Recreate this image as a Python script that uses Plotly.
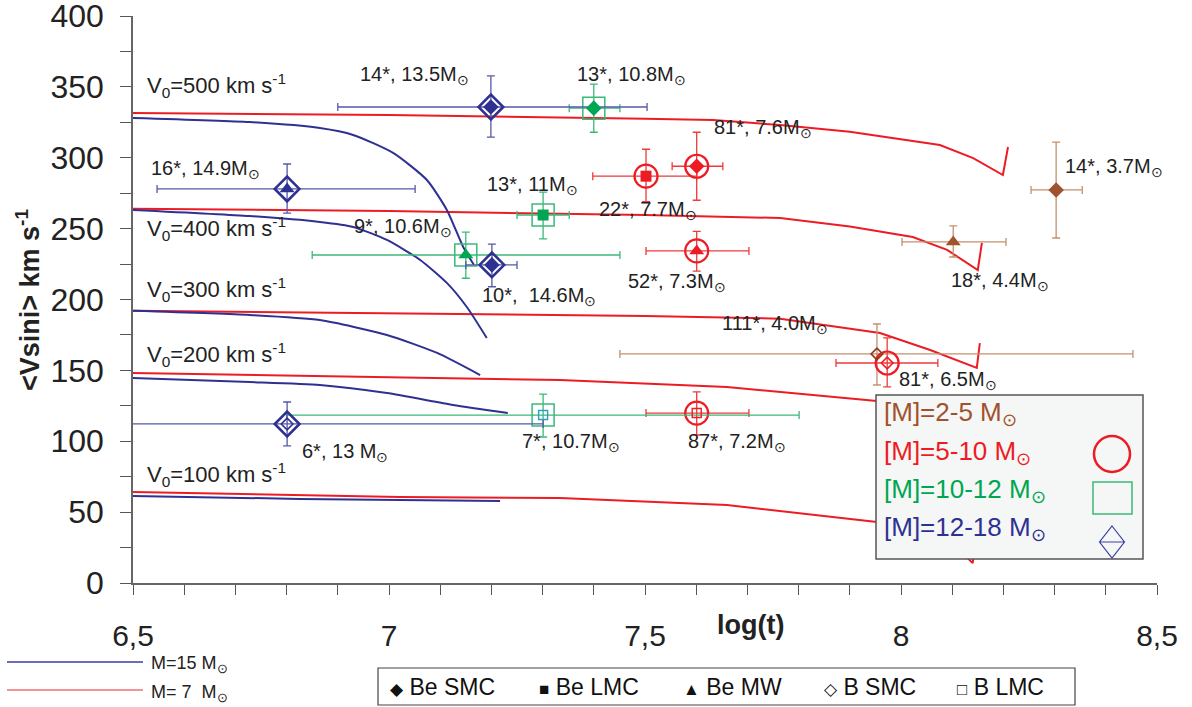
import plotly.graph_objects as go

# ---------------- data ----------------
# model curves, M = 7 Msun (red)
r500_x = [6.5, 7.0, 7.5, 7.633, 7.764, 7.9, 8.076, 8.141, 8.199, 8.209]
r500_y = [331.6, 330.2, 327.5, 326.6, 323.1, 318.4, 309.0, 299.8, 287.8, 307.6]
r400_x = [6.5, 7.0, 7.5, 7.764, 7.9, 8.023, 8.090, 8.150, 8.158]
r400_y = [264.0, 262.4, 259.6, 257.5, 251.5, 244.1, 235.0, 220.8, 239.9]
r300_x = [6.5, 6.982, 7.5, 7.764, 7.959, 8.057, 8.148, 8.154]
r300_y = [192.1, 190.5, 188.4, 186.5, 176.4, 164.4, 151.7, 169.3]
r200_x = [6.5, 6.982, 7.334, 7.660, 7.953, 8.07, 8.14, 8.15]
r200_y = [148.1, 145.3, 143.2, 138.3, 128.4, 116.0, 102.0, 118.0]
r100_x = [6.5, 7.021, 7.334, 7.660, 7.953, 8.11, 8.14, 8.145]
r100_y = [64.2, 60.7, 60.0, 55.0, 43.0, 24.7, 14.0, 30.0]

# model curves, M = 15 Msun (blue)
b500_x = [6.5, 6.728, 6.865, 6.930, 7.008, 7.074, 7.113, 7.145, 7.166]
b500_y = [328.1, 325.2, 321.0, 316.1, 303.4, 284.3, 263.2, 237.0, 224.3]
b400_x = [6.5, 6.728, 6.865, 6.930, 6.996, 7.061, 7.113, 7.152, 7.191]
b400_y = [263.2, 258.9, 254.7, 251.2, 242.0, 227.9, 211.7, 194.7, 172.8]
b300_x = [6.5, 6.728, 6.865, 6.996, 7.094, 7.178]
b300_y = [192.0, 189.1, 185.5, 175.0, 162.3, 146.7]
b200_x = [6.5, 6.728, 6.865, 6.996, 7.125, 7.232]
b200_y = [144.6, 141.8, 139.7, 134.0, 125.6, 119.9]
b100_x = [6.5, 6.826, 7.217]
b100_y = [61.4, 59.3, 57.9]

v0_labels = ["500", "400", "300", "200", "100"]

# observed groups
pt_x   = [7.199, 7.400, 7.601, 7.502, 7.301, 7.150, 7.201, 7.601, 6.801, 8.303, 8.102, 7.953, 7.973, 6.801, 7.301, 7.601]
pt_xlo = [6.900, 7.352, 7.553, 7.398, 7.250, 6.850, 7.150, 7.502, 6.547, 8.254, 8.002, 7.451, 7.873, 6.300, 6.800, 7.502]
pt_xhi = [7.504, 7.451, 7.652, 7.601, 7.352, 7.451, 7.250, 7.703, 7.051, 8.354, 8.205, 8.453, 8.072, 7.301, 7.801, 7.703]
pt_y   = [335.8, 335.0, 294.0, 287.0, 259.6, 231.4, 224.4, 234.3, 278.0, 277.3, 240.6, 161.6, 155.2, 112.2, 118.5, 119.9]
pt_ylo = [314.6, 318.0, 270.0, 269.0, 242.7, 215.0, 209.0, 220.0, 261.0, 243.4, 230.0, 139.7, 138.3, 96.7, 103.0, 104.4]
pt_yhi = [357.7, 352.0, 318.0, 306.0, 275.8, 247.6, 239.0, 248.0, 295.6, 311.0, 251.9, 182.7, 172.9, 127.7, 133.3, 134.8]
# mass class: 0 = 2-5, 1 = 5-10, 2 = 10-12, 3 = 12-18 Msun
pt_cls  = [3, 2, 1, 1, 2, 2, 3, 1, 3, 0, 0, 0, 1, 3, 2, 1]
# sample: BeSMC, BeLMC, BeMW, BSMC, BLMC
pt_type = ["BeSMC", "BeSMC", "BeSMC", "BeLMC", "BeLMC", "BeMW", "BeSMC", "BeMW",
           "BeMW", "BeSMC", "BeMW", "BSMC", "BSMC", "BSMC", "BLMC", "BLMC"]
pt_label = ["14*, 13.5M", "13*, 10.8M", "81*, 7.6M", "22*, 7.7M", "13*, 11M", "9*, 10.6M",
            "10*,  14.6M", "52*, 7.3M", "16*, 14.9M", "14*, 3.7M", "18*, 4.4M", "111*, 4.0M",
            "81*, 6.5M", "6*, 13 M", "7*, 10.7M", "87*, 7.2M"]

class_names = ["[M]=2-5 M", "[M]=5-10 M", "[M]=10-12 M", "[M]=12-18 M"]
sample_names = ["Be SMC", "Be LMC", "Be MW", "B SMC", "B LMC"]
x_ticks = [6.5, 7.0, 7.5, 8.0, 8.5]
x_ticktext = ["6,5", "7", "7,5", "8", "8,5"]

# ---------------- style ----------------
W, H = 1192, 707
L, R, T, B = 133, 35, 16, 124
PW, PH = W - L - R, H - T - B
FONT = "Liberation Sans, Arial, Helvetica, sans-serif"
SUN = "<sub>⊙</sub>"

RED, BLUE, GREEN, BROWN = "#ed1c24", "#2e3192", "#00a651", "#a0522d"
cls_color = [BROWN, RED, GREEN, BLUE]
cls_err = ["#c4906c", "#ef3a3a", "#3cb878", "#5559a8"]
cls_outer = [None, ("circle-open", 23, 2.2, RED), ("square-open", 22, 1.5, "#3cb878"),
             ("diamond-open", 19, 2.6, BLUE)]
type_marker = {"BeSMC": ("diamond", 12, 0), "BeLMC": ("square", 11, 0),
               "BeMW": ("triangle-up", 13, 0), "BSMC": ("diamond-open", 9, 1.6),
               "BLMC": ("square-open", 9, 1.4)}
inner_override = {(0, "BSMC"): "#8b3a1a", (2, "BLMC"): "#2aa0c8"}

def px(xp):
    return (xp - L) / PW

def py(yp):
    return (H - B - yp) / PH

fig = go.Figure()

curves = [(r500_x, r500_y, RED, "linear"), (r400_x, r400_y, RED, "linear"),
          (r300_x, r300_y, RED, "linear"), (r200_x, r200_y, RED, "linear"),
          (r100_x, r100_y, RED, "linear"),
          (b500_x, b500_y, BLUE, "spline"), (b400_x, b400_y, BLUE, "spline"),
          (b300_x, b300_y, BLUE, "spline"), (b200_x, b200_y, BLUE, "spline"),
          (b100_x, b100_y, BLUE, "spline")]
for cx, cy, col, shp in curves:
    fig.add_trace(go.Scatter(x=cx, y=cy, mode="lines",
                             line=dict(color=col, width=2, shape=shp, smoothing=0.6),
                             hoverinfo="skip", showlegend=False))

# error bars + outer mass-class symbol
for c in range(4):
    idx = [i for i in range(len(pt_x)) if pt_cls[i] == c]
    xs = [pt_x[i] for i in idx]
    ys = [pt_y[i] for i in idx]
    o = cls_outer[c]
    if o is None:
        marker = dict(size=1, color="rgba(0,0,0,0)")
    else:
        marker = dict(symbol=o[0], size=o[1], color=o[3], line=dict(width=o[2], color=o[3]))
    fig.add_trace(go.Scatter(
        x=xs, y=ys, mode="markers", marker=marker, showlegend=False, hoverinfo="skip",
        error_x=dict(type="data", symmetric=False,
                     array=[pt_xhi[i] - pt_x[i] for i in idx],
                     arrayminus=[pt_x[i] - pt_xlo[i] for i in idx],
                     color=cls_err[c], thickness=1.3, width=4),
        error_y=dict(type="data", symmetric=False,
                     array=[pt_yhi[i] - pt_y[i] for i in idx],
                     arrayminus=[pt_y[i] - pt_ylo[i] for i in idx],
                     color=cls_err[c], thickness=1.3, width=4)))

# inner sample symbols
for c in range(4):
    for t, (sym, sz, lw) in type_marker.items():
        idx = [i for i in range(len(pt_x)) if pt_cls[i] == c and pt_type[i] == t]
        if not idx:
            continue
        col = inner_override.get((c, t), cls_color[c])
        fig.add_trace(go.Scatter(
            x=[pt_x[i] for i in idx], y=[pt_y[i] for i in idx], mode="markers",
            marker=dict(symbol=sym, size=sz, color=col, line=dict(width=lw, color=col)),
            showlegend=False, hoverinfo="skip"))

annotations = []
# point labels (offsets in pixels from the point)
lab_off = [(-76, 32), (38, 33), (66, 38), (2, -34), (-11, 30), (-63, 27), (47, -32), (-20, -32),
           (-82, 19), (58, 22), (47, -40), (-102, 29), (61, -17), (58, -29), (28, -27), (40, -29)]
for i, lab in enumerate(pt_label):
    annotations.append(dict(x=pt_x[i], y=pt_y[i], xref="x", yref="y", text=lab + SUN,
                            xshift=lab_off[i][0], yshift=lab_off[i][1], showarrow=False,
                            xanchor="center", yanchor="middle",
                            font=dict(family=FONT, size=20, color="#222")))

# V0 labels
v0_pos = [85, 228, 289, 354, 474]
for lab, yp in zip(v0_labels, v0_pos):
    annotations.append(dict(x=px(145), y=py(yp), xref="paper", yref="paper", xanchor="left",
                            yanchor="middle", showarrow=False,
                            text="V<sub>0</sub>=" + lab + " km s<sup>-1</sup>",
                            font=dict(family=FONT, size=22, color="#222")))

# axis titles
annotations.append(dict(x=px(28), y=py(300), xref="paper", yref="paper", textangle=-90,
                        xanchor="center", yanchor="middle",
                        showarrow=False, text="<b>&lt;Vsini&gt; km s<sup>-1</sup></b>",
                        font=dict(family=FONT, size=27, color="#222")))
annotations.append(dict(x=px(750), y=py(625), xref="paper", yref="paper", showarrow=False,
                        xanchor="center", yanchor="middle",
                        text="<b>log(t)</b>", font=dict(family=FONT, size=27, color="#222")))

shapes = []
# mass-class legend box
shapes.append(dict(type="rect", xref="paper", yref="paper", x0=px(876), x1=px(1143),
                   y0=py(559), y1=py(395), fillcolor="#f5f7f6", line=dict(color="#555", width=1.5),
                   layer="above"))
cls_rows = [413, 452, 490, 528]
for c in range(4):
    annotations.append(dict(x=px(882), y=py(cls_rows[c]), xref="paper", yref="paper",
                            xanchor="left", yanchor="middle", showarrow=False,
                            text=class_names[c] + SUN,
                            font=dict(family=FONT, size=26, color=cls_color[c])))
shapes.append(dict(type="circle", xref="paper", yref="paper", x0=px(1094), x1=px(1130),
                   y0=py(472), y1=py(436), line=dict(color=RED, width=2.5), layer="above"))
shapes.append(dict(type="rect", xref="paper", yref="paper", x0=px(1093), x1=px(1132),
                   y0=py(514), y1=py(482), line=dict(color="#3cb878", width=1.5), layer="above"))
dx0, dx1, dxc = px(1099.5), px(1124.5), px(1112)
dy0, dy1, dyc = py(558), py(526), py(542)
shapes.append(dict(type="path", xref="paper", yref="paper",
                   path=f"M {dxc} {dy1} L {dx1} {dyc} L {dxc} {dy0} L {dx0} {dyc} Z M {dx0} {dyc} L {dx1} {dyc}",
                   line=dict(color="#3a3ea0", width=1.2), layer="above"))

# sample legend box (bottom)
shapes.append(dict(type="rect", xref="paper", yref="paper", x0=px(378), x1=px(1075),
                   y0=py(705), y1=py(668), fillcolor="white", line=dict(color="#444", width=1.2),
                   layer="above"))
glyphs = ["◆", "■", "▲", "◇", "□"]
samp_x = [388, 537, 681, 822, 955]
for g, name, xp in zip(glyphs, sample_names, samp_x):
    annotations.append(dict(x=px(xp), y=py(687), xref="paper", yref="paper", xanchor="left",
                            yanchor="middle", showarrow=False,
                            text=f"<span style='font-size:17px'>{g}</span> {name}",
                            font=dict(family=FONT, size=23, color="#111")))

# model legend (bottom left)
shapes.append(dict(type="line", xref="paper", yref="paper", x0=px(7), x1=px(143),
                   y0=py(662), y1=py(662), line=dict(color="#3a3da0", width=1.5)))
shapes.append(dict(type="line", xref="paper", yref="paper", x0=px(7), x1=px(143),
                   y0=py(690), y1=py(690), line=dict(color="#f07070", width=1.5)))
annotations.append(dict(x=px(149), y=py(665), xref="paper", yref="paper", xanchor="left",
                        yanchor="middle", showarrow=False, text="M=15 M" + SUN,
                        font=dict(family=FONT, size=18, color="#222")))
annotations.append(dict(x=px(149), y=py(693), xref="paper", yref="paper", xanchor="left",
                        yanchor="middle", showarrow=False, text="M= 7  M" + SUN,
                        font=dict(family=FONT, size=18, color="#222")))

x_all = [round(6.5 + 0.1 * k, 1) for k in range(21)]
y_all = [25 * k for k in range(17)]

fig.update_layout(
    width=W, height=H, autosize=False,
    margin=dict(l=L, r=R, t=T, b=B, pad=0, autoexpand=False),
    plot_bgcolor="white", paper_bgcolor="white",
    font=dict(family=FONT, color="#222"),
    showlegend=False,
    annotations=annotations, shapes=shapes,
    xaxis=dict(range=[6.5, 8.5], showgrid=False, zeroline=False, showline=True,
               linecolor="#666", linewidth=1.5, ticks="outside", ticklen=10, tickwidth=1.2,
               tickcolor="#555", tickvals=x_all, automargin=False,
               ticktext=[x_ticktext[x_ticks.index(v)] if v in x_ticks else "" for v in x_all],
               tickfont=dict(size=30, color="#222"), ticklabelstandoff=15,
               ticklabeloverflow="allow"),
    yaxis=dict(range=[0, 400], showgrid=False, zeroline=False, showline=True,
               linecolor="#666", linewidth=1.5, ticks="outside", ticklen=11, tickwidth=1.2,
               tickcolor="#555", tickvals=y_all, automargin=False,
               ticktext=[str(v) if v % 50 == 0 else "" for v in y_all],
               tickfont=dict(size=32, color="#222"), ticklabelstandoff=10,
               ticklabeloverflow="allow"),
)

fig.write_html("out.html", config={"displayModeBar": False},
               post_script="document.body.style.margin='0';")
